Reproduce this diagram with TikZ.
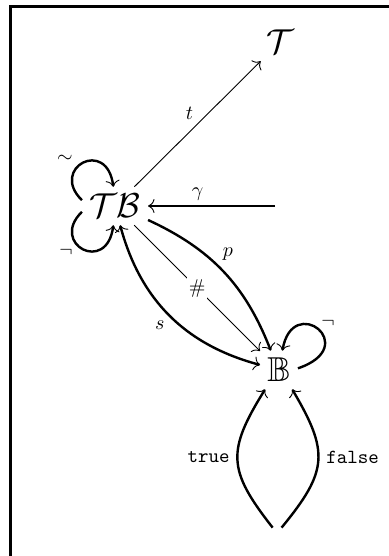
\documentclass[tikz,border=0pt]{standalone}
\usepackage{amssymb}
\usetikzlibrary{arrows.meta}
\begin{document}
\begin{tikzpicture}[x=0.5pt,y=0.5pt,
  obj/.style={inner sep=3.5pt, font=\LARGE},
  heavy/.style={line width=1.2pt},
  light/.style={line width=0.45pt},
  lbl/.style={inner sep=2pt},
  >={To[line width=0.45pt,length=3.2pt,width=7pt]}]
\useasboundingbox (0,0) rectangle (389,556);
\draw[line width=1.4pt] (10.5,-5) -- (10.5,549.5) -- (395,549.5);
% objects
\node[obj] (T) at (280,514) {$\mathcal{T}$};
\node[obj] (TB) at (115,350) {$\mathcal{T}\mathcal{B}$};
\node[obj] (B) at (279,186) {$\mathbb{B}$};
\coordinate (G) at (275,350);
\node[inner sep=3pt] (one) at (277,22) {};
% arrows
\draw[light,->] (TB) -- (T) node[midway,above left,lbl] {$t$};
\draw[heavy,->] (G) -- (TB) node[pos=0.61,above,lbl] {$\gamma$};
\draw[heavy,->] (TB) to[bend left=22] node[pos=0.45,above right,lbl] {$p$} (B);
\draw[heavy,<->] (TB) to[bend right=30] node[midway,below left,lbl] {$s$} (B);
\draw[light,->] (TB) -- (B) node[midway,fill=white,inner sep=1pt] {$\#$};
% loops
\draw[heavy,->] (TB.170) .. controls +(-33,32) and +(-6,50) .. (TB.95);
\node (nsim) at (65,397) {$\sim$};
\draw[heavy,->] (TB.190) .. controls +(-33,-32) and +(-6,-50) .. (TB.265);
\node (nnegA) at (66,304) {$\neg$};
\draw[heavy,->] (B.5) .. controls +(65,22) and +(10,59) .. (B.80);
\node (nnegB) at (328,233) {$\neg$};
% constants
\draw[heavy,->] (one) to[bend left=35,looseness=1.35] node[pos=0.53,left] {\texttt{true}} (B);
\draw[heavy,->] (one) to[bend right=35,looseness=1.35] node[pos=0.53,right] {\texttt{false}} (B);
\end{tikzpicture}
\end{document}
